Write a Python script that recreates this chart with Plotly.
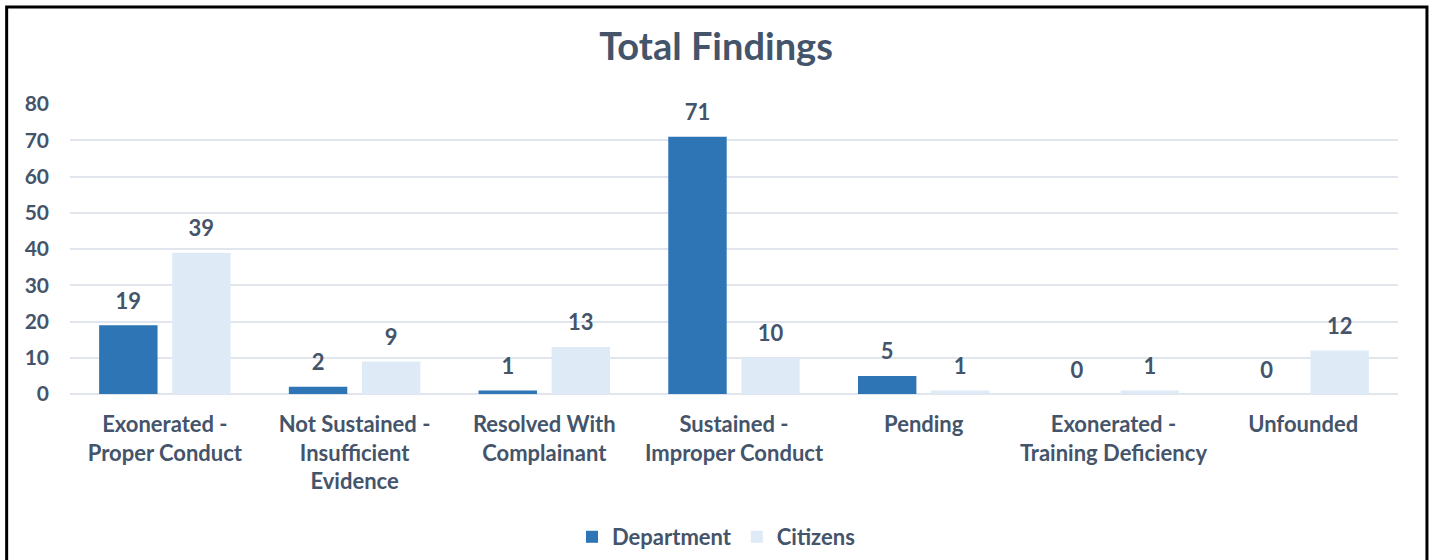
import plotly.graph_objects as go

categories = ["Exonerated -<br>Proper Conduct", "Not Sustained -<br>Insufficient<br>Evidence",
              "Resolved With<br>Complainant", "Sustained -<br>Improper Conduct", "Pending",
              "Exonerated -<br>Training Deficiency", "Unfounded"]
department = [19, 2, 1, 71, 5, 0, 0]
citizens = [39, 9, 13, 10, 1, 1, 12]
y_ticks = [0, 10, 20, 30, 40, 50, 60, 70, 80]

TXT = "#44546A"
FONT = "Lato"

fig = go.Figure()
series = [("Department", department, "#2E75B6", "d"), ("Citizens", citizens, "#DEEBF7", "c")]
for name, vals, col, grp in series:
    fig.add_trace(go.Bar(
        name=name, x=categories, y=vals, marker=dict(color=col, line=dict(width=0)),
        offsetgroup=grp, hoverinfo="x+y+name",
    ))
for name, vals, col, grp in series:
    fig.add_trace(go.Scatter(
        x=categories, y=vals, mode="markers+text", text=[str(v) for v in vals],
        textposition="top center", offsetgroup=grp, showlegend=False, hoverinfo="skip",
        marker=dict(size=16, color="rgba(0,0,0,0)"), cliponaxis=False,
        textfont=dict(family=FONT, size=22, color=TXT, weight="bold"),
    ))

fig.update_layout(
    width=1432, height=560,
    margin=dict(l=70, r=34, t=104, b=166, autoexpand=False),
    paper_bgcolor="white", plot_bgcolor="white",
    barmode="group", bargap=0.23, bargroupgap=0.2, scattermode="group", scattergap=0.23,
    title=dict(text="<b>Total Findings</b>", x=0.5, xanchor="center", y=1 - 47 / 560, yanchor="middle",
               font=dict(family=FONT, size=38, color=TXT)),
    font=dict(family=FONT, color=TXT),
    showlegend=True,
    legend=dict(orientation="h", xref="container", x=0.5, xanchor="center", yref="container", y=1 - 537 / 560,
                yanchor="middle",
                font=dict(family=FONT, size=22, color=TXT, weight="bold"), itemwidth=30, traceorder="normal"),
    xaxis=dict(showgrid=False, showline=False, tickfont=dict(family=FONT, size=22, color=TXT, weight="bold"),
               ticks="", tickangle=0, automargin=False, fixedrange=True, ticklabelstandoff=15),
    yaxis=dict(range=[0, 80], tickvals=y_ticks, showgrid=True, gridcolor="#E1E6EE", gridwidth=1.5,
               zeroline=True, zerolinecolor="#E1E6EE", zerolinewidth=1.5, showline=False, automargin=False,
               tickfont=dict(family=FONT, size=21, color=TXT, weight="bold"), ticklabelstandoff=20),
    shapes=[dict(type="rect", xref="paper", yref="paper", x0=-0.0477, x1=1.0218, y0=-1.0, y1=1.3345,
                 line=dict(color="black", width=3), fillcolor="rgba(0,0,0,0)", layer="above")],
)

fig.write_html("out.html", config={"displayModeBar": False},
               post_script="document.body.style.margin='0';")
